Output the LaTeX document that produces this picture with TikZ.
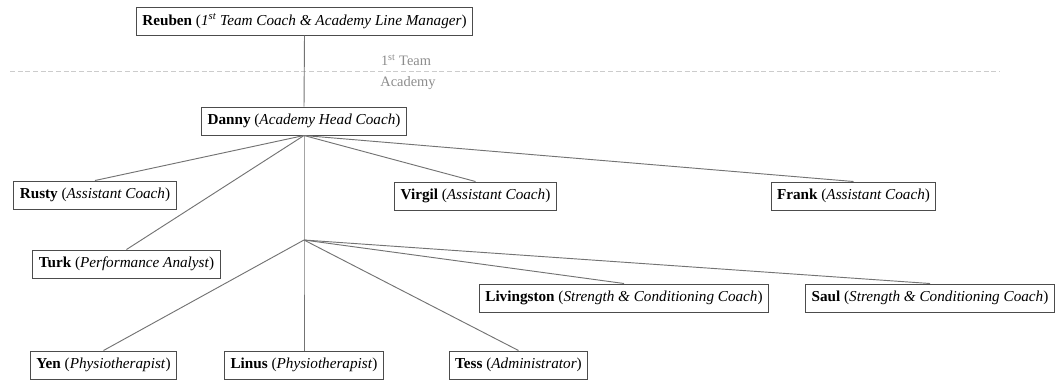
\documentclass[tikz,border=0pt]{standalone}
\usepackage{fontspec}
\setmainfont{Liberation Serif}
\usetikzlibrary{calc}
\definecolor{LineClr}{rgb}{0.45,0.45,0.45}
\definecolor{BoxClr}{rgb}{0.3,0.3,0.3}
\definecolor{SplitClr}{rgb}{0.8,0.8,0.8}
\definecolor{TagClr}{rgb}{0.55,0.55,0.55}

\tikzset{role/.style={draw=BoxClr,line width=0.75pt,fill=white,minimum height=21pt,inner xsep=4.5pt,font=\fontsize{11.4}{13}\selectfont},
  link/.style={draw=LineClr,line width=0.7pt},
  tag/.style={text=TagClr,font=\fontsize{10.8}{13}\selectfont}}

\begin{document}
\begin{tikzpicture}[x=0.75pt,y=-0.75pt]
\useasboundingbox (0,0) rectangle (1056,380);

% split between first team and academy
\coordinate (S1) at (10,71);
\coordinate (S2) at (1000,71);
\draw[SplitClr,line width=0.7pt,dash pattern=on 3.75pt off 2pt] (S1) -- (S2);
\node[tag] (T1) at (406,60) {1\textsuperscript{st} Team};
\node[tag] (T2) at (408,83) {Academy};

\node[role] (Reuben) at (304.5,21) {\textbf{Reuben} (\textit{1\textsuperscript{st} Team Coach \& Academy Line Manager})};
\node[role] (Danny) at (304,121) {\textbf{Danny} (\textit{Academy Head Coach})};

\node[role] (Rusty) at (95,195) {\textbf{Rusty} (\textit{Assistant Coach})};
\node[role] (Virgil) at (475.5,196) {\textbf{Virgil} (\textit{Assistant Coach})};
\node[role] (Frank) at (853.5,196) {\textbf{Frank} (\textit{Assistant Coach})};
\node[role] (Turk) at (126.5,264) {\textbf{Turk} (\textit{Performance Analyst})};

\node[role] (Livingston) at (624,298) {\textbf{Livingston} (\textit{Strength \& Conditioning Coach})};
\node[role] (Saul) at (930,298) {\textbf{Saul} (\textit{Strength \& Conditioning Coach})};

\node[role] (Yen) at (103.5,365) {\textbf{Yen} (\textit{Physiotherapist})};
\node[role] (Linus) at (304,365) {\textbf{Linus} (\textit{Physiotherapist})};
\node[role] (Tess) at (518.5,365) {\textbf{Tess} (\textit{Administrator})};

\coordinate (Hub) at (304,240);

\draw[link] (Reuben.south) -- (Danny.north);
\draw[link] (Danny.south) -- (Rusty.north);
\draw[link] (Danny.south) -- (Turk.north);
\draw[link] (Danny.south) -- (Virgil.north);
\draw[link] (Danny.south) -- (Frank.north);
\draw[link] (Danny.south) -- (Hub) -- (Linus.north);
\draw[link] (Hub) -- (Yen.north);
\draw[link] (Hub) -- (Tess.north);
\draw[link] (Hub) -- (Livingston.north);
\draw[link] (Hub) -- (Saul.north);

\end{tikzpicture}
\end{document}
